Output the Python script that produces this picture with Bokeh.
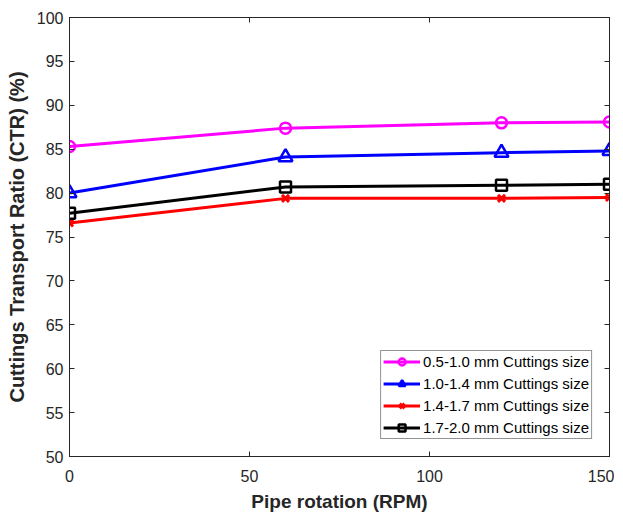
from bokeh.plotting import figure
from bokeh.models import LinearAxis, Range1d, Legend, LegendItem, FixedTicker, CustomJSTickFormatter
from bokeh.embed import file_html
from bokeh.resources import INLINE

rpm = [0, 60, 120, 150]
s1 = [85.3, 87.4, 88.0, 88.1]
s2 = [80.0, 84.1, 84.6, 84.8]
s3 = [76.6, 79.4, 79.4, 79.5]
s4 = [77.7, 80.7, 80.9, 81.0]
names = ["0.5-1.0 mm Cuttings size", "1.0-1.4 mm Cuttings size",
         "1.4-1.7 mm Cuttings size", "1.7-2.0 mm Cuttings size"]
xticks = [0, 50, 100, 150]
yticks = [50, 55, 60, 65, 70, 75, 80, 85, 90, 95, 100]

FONT = "Liberation Sans"
p = figure(width=614, height=514, output_backend="svg", toolbar_location=None,
           x_range=Range1d(0, 150), y_range=Range1d(50, 100),
           min_border_left=69, min_border_right=5, min_border_top=17, min_border_bottom=55)
p.grid.visible = False
p.outline_line_color = "#262626"
p.outline_line_width = 1

for ax in p.xaxis + p.yaxis:
    ax.major_tick_in = 5
    ax.major_tick_out = 0
    ax.minor_tick_line_color = None
    ax.axis_line_color = "#262626"
    ax.major_tick_line_color = "#262626"
    ax.major_label_text_font = FONT
    ax.major_label_text_font_size = "16px"
    ax.major_label_text_color = "#262626"
    ax.axis_label_text_font = FONT
    ax.axis_label_text_font_style = "bold"
    ax.axis_label_text_color = "#262626"
p.xaxis.ticker = FixedTicker(ticks=xticks)
p.yaxis.ticker = FixedTicker(ticks=yticks)
p.xaxis.axis_label = "Pipe rotation (RPM)"
p.yaxis.axis_label = "Cuttings Transport Ratio (CTR) (%)"
p.xaxis.axis_label_text_font_size = "19px"
p.yaxis.axis_label_text_font_size = "20px"
p.xaxis.axis_label_standoff = 6
p.yaxis.axis_label_standoff = 6
p.xaxis.major_label_standoff = 13
p.yaxis.major_label_standoff = 6

ra = LinearAxis(ticker=FixedTicker(ticks=yticks), formatter=CustomJSTickFormatter(code="return ''"),
                major_tick_in=5, major_tick_out=0, minor_tick_line_color=None,
                axis_line_color="#262626", major_tick_line_color="#262626",
                major_label_standoff=0)
ta = LinearAxis(ticker=FixedTicker(ticks=xticks), formatter=CustomJSTickFormatter(code="return ''"),
                major_tick_in=5, major_tick_out=0, minor_tick_line_color=None,
                axis_line_color="#262626", major_tick_line_color="#262626",
                major_label_standoff=0)
p.add_layout(ra, "right")
p.add_layout(ta, "above")

items = []
specs = [(s1, "#FF00FF", "circle"), (s2, "#0000FF", "triangle"),
         (s3, "#FF0000", "x"), (s4, "#000000", "square")]
for (ys, col, mk), nm in zip(specs, names):
    l = p.line(rpm, ys, line_color=col, line_width=3)
    if mk == "x":
        m = p.scatter(rpm, ys, marker="x", size=10, line_color=col, line_width=3)
    elif mk == "triangle":
        m = p.scatter(rpm, ys, marker="triangle", size=14, line_color=col, line_width=2.5,
                      fill_color=None)
    else:
        m = p.scatter(rpm, ys, marker=mk, size=11, line_color=col, line_width=2.5,
                      fill_color=None)
    items.append(LegendItem(label=nm, renderers=[l, m]))

leg = Legend(items=items, location="bottom_right")
leg.label_text_font = FONT
leg.label_text_font_size = "15px"
leg.label_text_color = "#000000"
leg.border_line_color = "#262626"
leg.border_line_width = 1
leg.glyph_width = 37
leg.glyph_height = 17
leg.label_height = 17
leg.spacing = 5
leg.padding = 2
leg.margin = 17
leg.label_standoff = 3
p.add_layout(leg)

open("out.html", "w").write(file_html(p, INLINE))
